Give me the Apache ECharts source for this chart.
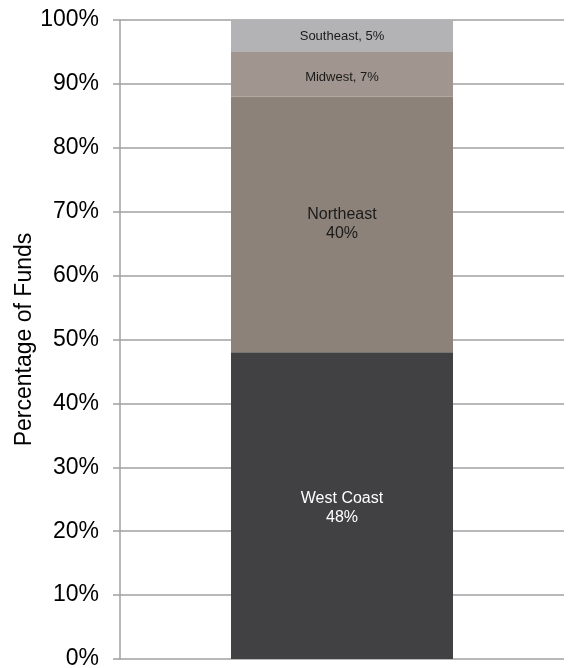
<!DOCTYPE html>
<html>
<head>
<meta charset="utf-8">
<script src="https://cdn.jsdelivr.net/npm/echarts@6/dist/echarts.min.js"></script>
<style>
  html, body { margin: 0; padding: 0; background: #fff; }
  #chart { width: 569px; height: 668px; }
</style>
</head>
<body>
<div id="chart"></div>
<script>
// Share of funds by region (single stacked column)
const regions = ['West Coast', 'Northeast', 'Midwest', 'Southeast'];
const shares = [48, 40, 7, 5];
const yTicks = [0, 10, 20, 30, 40, 50, 60, 70, 80, 90, 100];

const colors = ['#414042', '#8c8279', '#a1968f', '#b3b3b5'];
const labelStyles = [
  { color: '#ffffff', fontSize: 16, lineHeight: 19, twoLine: true, offset: [0, 2] },
  { color: '#1a1a1a', fontSize: 16, lineHeight: 19, twoLine: true },
  { color: '#1a1a1a', fontSize: 13, lineHeight: 15, twoLine: false, offset: [0, 3] },
  { color: '#1a1a1a', fontSize: 13, lineHeight: 15, twoLine: false }
];

const chart = echarts.init(document.getElementById('chart'));

const series = regions.map((name, i) => ({
  name: name,
  type: 'bar',
  stack: 'total',
  barWidth: '50%',
  data: [shares[i]],
  itemStyle: { color: colors[i] },
  label: {
    show: true,
    position: 'inside',
    offset: labelStyles[i].offset || [0, 0],
    fontFamily: 'Liberation Sans, Arial, sans-serif',
    fontSize: labelStyles[i].fontSize,
    lineHeight: labelStyles[i].lineHeight,
    color: labelStyles[i].color,
    formatter: p => labelStyles[i].twoLine
      ? p.seriesName + '\n' + p.value + '%'
      : p.seriesName + ', ' + p.value + '%'
  },
  emphasis: { disabled: true }
}));

chart.setOption({
  animation: false,
  grid: { left: 120, right: 5, top: 20, bottom: 9, containLabel: false, outerBoundsMode: 'none' },
  xAxis: {
    type: 'category',
    data: ['Funds'],
    axisLine: { show: false },
    axisTick: { show: false },
    axisLabel: { show: false }
  },
  yAxis: {
    type: 'value',
    min: yTicks[0],
    max: yTicks[yTicks.length - 1],
    interval: 10,
    name: 'Percentage of Funds',
    nameLocation: 'middle',
    nameGap: 84,
    nameMoveOverlap: false,
    nameTextStyle: { fontFamily: 'Liberation Sans, Arial, sans-serif', fontSize: 23, color: '#000' },
    axisLine: { show: true, lineStyle: { color: '#a0a0a0', width: 1.5 } },
    axisTick: { show: true, length: 7, lineStyle: { color: '#a0a0a0', width: 1.5 } },
    axisLabel: {
      margin: 21,
      fontFamily: 'Liberation Sans, Arial, sans-serif',
      fontSize: 23,
      color: '#000',
      formatter: v => v + '%'
    },
    splitLine: { show: true, lineStyle: { color: '#a0a0a0', width: 1.5 } }
  },
  series: series
});
</script>
</body>
</html>
